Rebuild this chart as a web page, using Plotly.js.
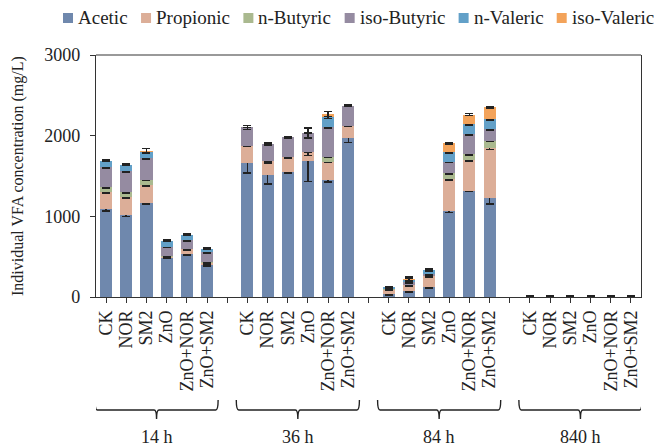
<!DOCTYPE html>
<html>
<head>
<meta charset="utf-8">
<script src="https://cdn.plot.ly/plotly-3.0.1.min.js"></script>
<style>
  html, body { margin: 0; padding: 0; background: #fff; }
  #chart { width: 654px; height: 448px; }
</style>
</head>
<body>
<div id="chart"></div>
<script>
// Sampling times and treatments
const groups = ['14 h', '36 h', '84 h', '840 h'];
const samples = ['CK', 'NOR', 'SM2', 'ZnO', 'ZnO+NOR', 'ZnO+SM2'];

const seriesNames = ['Acetic', 'Propionic', 'n-Butyric', 'iso-Butyric', 'n-Valeric', 'iso-Valeric'];
const seriesColors = ['#6f88ad', '#dcae98', '#aab98f', '#958ba1', '#62a0c8', '#f3a35a'];

// Concentrations in mg/L, ordered 14 h, 36 h, 84 h, 840 h;
// within each time: CK, NOR, SM2, ZnO, ZnO+NOR, ZnO+SM2
const acetic     = [1089, 1012, 1164, 488, 530, 400,   1656, 1516, 1545, 1690, 1449, 1966,   35, 70, 118, 1060, 1317, 1226,   5, 5, 5, 5, 5, 5];
const propionic  = [212, 222, 227, 10, 60, 20,         220, 164, 186, 103, 228, 158,         55, 75, 140, 402, 381, 621,      0, 0, 0, 0, 0, 0];
const nButyric   = [62, 62, 62, 5, 10, 10,             0, 10, 0, 0, 62, 0,                   5, 5, 8, 75, 75, 91,             0, 0, 0, 0, 0, 0];
const isoButyric = [248, 261, 270, 122, 105, 130,      227, 206, 248, 240, 373, 249,         5, 30, 20, 140, 248, 145,        0, 0, 0, 0, 0, 0];
const nValeric   = [79, 83, 70, 71, 65, 40,            0, 0, 0, 0, 115, 0,                   20, 30, 45, 116, 124, 124,       0, 0, 0, 0, 0, 0];
const isoValeric = [0, 0, 21, 0, 0, 0,                 0, 0, 0, 0, 42, 0,                    0, 12, 0, 111, 116, 145,         0, 0, 0, 0, 0, 0];

// Standard deviations (mg/L); null where the acid was not detected
const aceticSd     = [20, 15, 12, 12, 10, 12,          120, 115, 10, 260, 25, 50,            8, 10, 10, 10, 10, 70,           4, 4, 4, 4, 4, 4];
const propionicSd  = [12, 10, 12, 8, 8, 8,             8, 20, 10, 40, 12, 12,                8, 10, 10, 10, 10, 20,           null, null, null, null, null, null];
const nButyricSd   = [10, 10, 10, 8, 8, 8,             null, 10, null, null, 10, null,       null, 8, 8, 10, 10, 10,          null, null, null, null, null, null];
const isoButyricSd = [10, 10, 12, 10, 10, 12,          25, 15, 10, 62, 15, 10,               null, 10, 10, 10, 10, 10,        null, null, null, null, null, null];
const nValericSd   = [12, 12, 12, 10, 10, 10,          null, null, null, null, 12, null,     8, 12, 15, 10, 10, 10,           null, null, null, null, null, null];
const isoValericSd = [null, null, 25, null, null, null, null, null, null, null, 30, null,   null, 25, null, 10, 12, 10,      null, null, null, null, null, null];

const seriesValues = [acetic, propionic, nButyric, isoButyric, nValeric, isoValeric];
const seriesSd = [aceticSd, propionicSd, nButyricSd, isoButyricSd, nValericSd, isoValericSd];

// Each time block occupies 6 slots followed by one empty slot
const slotsPerGroup = samples.length + 1;
const xPos = [];
const labels = [];
groups.forEach((g, gi) => samples.forEach((s, si) => {
  xPos.push(gi * slotsPerGroup + si);
  labels.push(s);
}));
const nSlots = groups.length * slotsPerGroup - 1;
const tickVals = [];
const tickText = [];
for (let i = 0; i < nSlots; i++) {
  tickVals.push(i);
  const k = xPos.indexOf(i);
  tickText.push(k >= 0 ? labels[k] : '');
}

const serif = "'Liberation Serif', 'Times New Roman', serif";
const ink = '#222222';

const traces = seriesNames.map((name, i) => ({
  type: 'bar',
  name: name,
  x: xPos,
  y: seriesValues[i],
  marker: { color: seriesColors[i], line: { width: 0 } },
  error_y: { type: 'data', array: seriesSd[i], visible: true, color: ink, thickness: 1.6, width: 4 },
  showlegend: false,
  hoverinfo: 'skip'
}));

// Plot frame in pixels (used to place the hand-built legend and labels)
const W = 654, H = 448;
const M = { l: 96, r: 13, t: 55, b: 151 };
const plotW = W - M.l - M.r;
const plotH = H - M.t - M.b;
const px2paperX = px => (px - M.l) / plotW;
const px2paperY = py => (H - M.b - py) / plotH;

const shapes = [];
const annotations = [];

// Curly-style brackets below each time block
const yTop = px2paperY(400), yLine = px2paperY(410), yTip = px2paperY(419);
groups.forEach((g, gi) => {
  const x0 = gi * slotsPerGroup - 0.55;
  const x1 = gi * slotsPerGroup + samples.length - 1 + 0.55;
  const xc = (x0 + x1) / 2;
  const r = 0.12;
  shapes.push({
    type: 'path', xref: 'x', yref: 'paper',
    path: `M${x0},${yTop} Q${x0},${yLine} ${x0 + r},${yLine} L${xc - r},${yLine} Q${xc},${yLine} ${xc},${yTip} ` +
          `M${xc},${yTip} Q${xc},${yLine} ${xc + r},${yLine} L${x1 - r},${yLine} Q${x1},${yLine} ${x1},${yTop}`,
    line: { color: ink, width: 1.4 }
  });
  annotations.push({
    xref: 'x', yref: 'paper', x: xc, y: px2paperY(437),
    text: g, showarrow: false, xanchor: 'center', yanchor: 'middle',
    font: { family: serif, size: 18, color: ink }
  });
});

// Top border of the frame
shapes.push({
  type: 'line', xref: 'paper', yref: 'paper', x0: 0, x1: 1, y0: 1, y1: 1,
  line: { color: '#777', width: 1.5 }
});

// Y-axis title
annotations.push({
  xref: 'paper', yref: 'paper', x: px2paperX(18), y: 0.5,
  text: 'Individual VFA concentration (mg/L)', textangle: -90, showarrow: false,
  xanchor: 'center', yanchor: 'middle',
  font: { family: serif, size: 16, color: ink }
});

// Legend row: square swatches followed by names, laid out from measured text widths
const legendFont = 19;
const ctx = document.createElement('canvas').getContext('2d');
ctx.font = `${legendFont}px 'Liberation Serif'`;
const sw = 10, swGap = 3;
const legendLeft = 63, legendRight = 652, legendY = 18;
const textW = seriesNames.map(n => ctx.measureText(n).width);
const totalFixed = textW.reduce((a, b) => a + b, 0) + seriesNames.length * (sw + swGap);
const itemGap = (legendRight - legendLeft - totalFixed) / (seriesNames.length - 1);
let cx = legendLeft;
seriesNames.forEach((n, i) => {
  shapes.push({
    type: 'rect', xref: 'paper', yref: 'paper',
    x0: px2paperX(cx), x1: px2paperX(cx + sw),
    y0: px2paperY(legendY + sw / 2), y1: px2paperY(legendY - sw / 2),
    fillcolor: seriesColors[i], line: { width: 0 }
  });
  annotations.push({
    xref: 'paper', yref: 'paper', x: px2paperX(cx + sw + swGap), y: px2paperY(legendY),
    text: n, showarrow: false, xanchor: 'left', yanchor: 'middle',
    font: { family: serif, size: legendFont, color: ink }
  });
  cx += sw + swGap + textW[i] + itemGap;
});

const layout = {
  width: W, height: H,
  margin: M,
  paper_bgcolor: '#fff', plot_bgcolor: '#fff',
  barmode: 'stack',
  bargap: 0.4,
  showlegend: false,
  font: { family: serif, color: ink },
  xaxis: {
    range: [-0.5, nSlots - 0.5],
    tickmode: 'array', tickvals: tickVals, ticktext: tickText,
    tickangle: -90,
    ticks: 'outside', ticklen: 5, tickwidth: 1, tickcolor: '#333',
    showline: true, linecolor: '#333', linewidth: 1.2,
    showgrid: false, zeroline: false,
    tickfont: { family: serif, size: 18, color: ink },
    fixedrange: true
  },
  yaxis: {
    range: [0, 3000], tickmode: 'linear', tick0: 0, dtick: 1000,
    ticks: 'outside', ticklen: 5, tickwidth: 1, tickcolor: '#333',
    showline: true, linecolor: '#333', linewidth: 1.2, mirror: true,
    showgrid: false, zeroline: false,
    ticklabelstandoff: 6,
    tickfont: { family: serif, size: 18, color: ink },
    fixedrange: true
  },
  shapes: shapes,
  annotations: annotations
};

Plotly.newPlot('chart', traces, layout, { displayModeBar: false, staticPlot: true });
</script>
</body>
</html>
